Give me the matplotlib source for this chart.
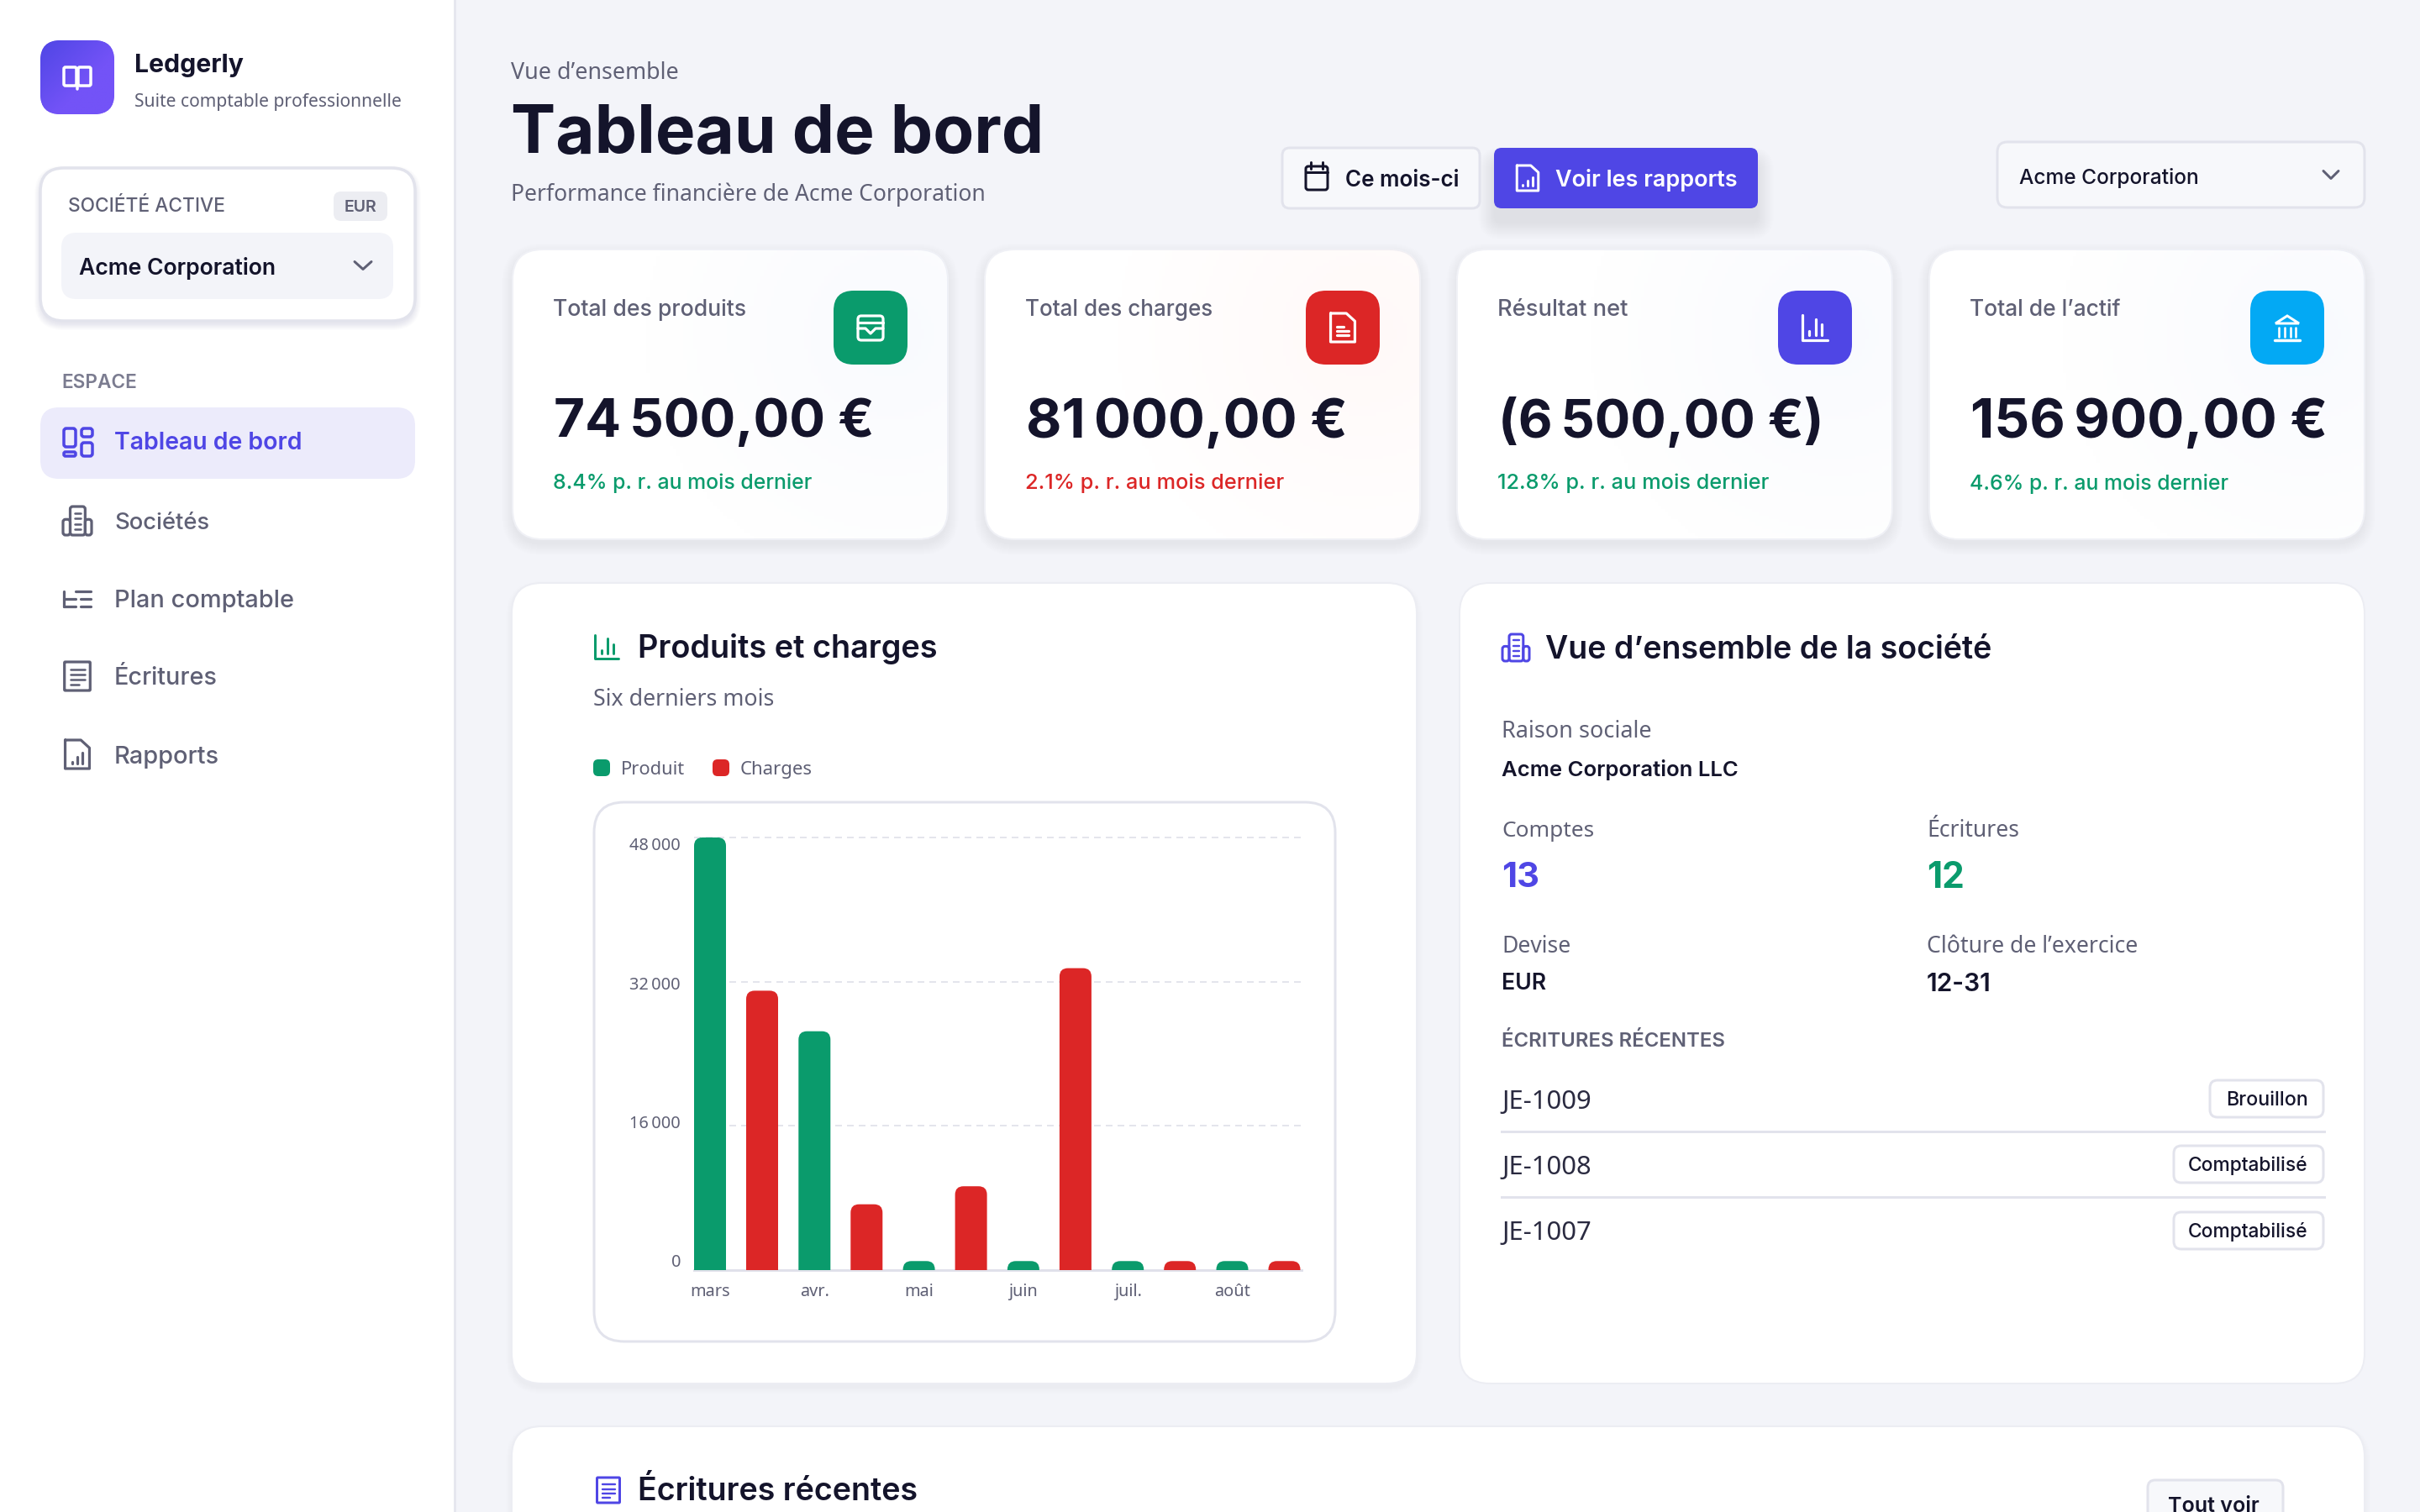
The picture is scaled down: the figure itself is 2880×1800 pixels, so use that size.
import numpy as np
import matplotlib
matplotlib.use('Agg')
import matplotlib.pyplot as plt
from matplotlib.patches import FancyBboxPatch, Polygon
from matplotlib.transforms import ScaledTranslation

# chart data
months = ['mars', 'avr.', 'mai', 'juin', 'juil.', 'août']
produit = [48000, 26500, 1000, 1000, 1000, 1000]
charges = [31000, 7300, 9300, 33500, 1000, 1000]
y_ticks = [0, 16000, 32000, 48000]
y_tick_labels = ['0', '16\u202f000', '32\u202f000', '48\u202f000']

# kpi cards
kpi_titles = ['Total des produits', 'Total des charges', 'Résultat net', 'Total de l’actif']
kpi_values = ['74\u202f500,00\u00a0€', '81\u202f000,00\u00a0€', '(6\u202f500,00\u00a0€)', '156\u202f900,00\u00a0€']
kpi_changes = ['8.4% p. r. au mois dernier', '2.1% p. r. au mois dernier',
               '12.8% p. r. au mois dernier', '4.6% p. r. au mois dernier']

nav_items = ['Sociétés', 'Plan comptable', 'Écritures', 'Rapports']
journal_ids = ['JE-1009', 'JE-1008', 'JE-1007']
journal_status = ['Brouillon', 'Comptabilisé', 'Comptabilisé']

INK = '#14142B'
GREY = '#5F6075'
LINE = '#E2E3EC'
BG = '#F3F4F9'
INDIGO = '#4F46E5'
GREEN = '#0A9B6C'
RED = '#DC2626'
SKY = '#03A9F4'
BODY = ['Noto Sans', 'DejaVu Sans']
HEAD = ['Inter', 'DejaVu Sans']
PX = 0.36  # one output pixel in points

fig = plt.figure(figsize=(14.4, 9), dpi=200, facecolor=BG)
ax0 = fig.add_axes([0, 0, 1, 1])
ax0.set_xlim(0, 2880)
ax0.set_ylim(1800, 0)
ax0.axis('off')


def box(x0, y0, x1, y1, r, fc='white', ec='none', lw=0, z=2, alpha=None):
    p = FancyBboxPatch((x0, y0), x1 - x0, y1 - y0, boxstyle='round,pad=0,rounding_size=%g' % r,
                       fc=fc, ec=ec, lw=lw * PX, zorder=z, alpha=alpha)
    ax0.add_patch(p)
    return p


def shadow(x0, y0, x1, y1, r, dy=6, spread=14, color='#3A3C6E', a=0.003, z=1):
    for i in range(spread):
        box(x0 - i, y0 + dy - i, x1 + i, y1 + dy + i, r + i, fc=color, z=z, alpha=a)


def put(s, x, y, w=None, size=10, color=INK, weight='normal', ha='left', fam=None, z=6):
    # Noto Sans here has one weight only, heavier text goes to Inter
    if fam is None:
        fam = BODY if weight == 'normal' else HEAD
    t = ax0.text(x, y + 3.5, s, fontsize=size, color=color, fontweight=weight, ha=ha, va='center',
                 family=fam, zorder=z)
    if w is not None:
        cur = t.get_window_extent(fig.canvas.get_renderer()).width
        t.set_fontsize(size * w / cur)
    return t


def ln(xs, ys, color, lw=3.5, z=7):
    ax0.plot(xs, ys, color=color, lw=lw * PX, solid_capstyle='round', solid_joinstyle='round', zorder=z)


def outline(x0, y0, x1, y1, r, color, lw=3.5, z=7):
    box(x0, y0, x1, y1, r, fc='none', ec=color, lw=lw, z=z)


def chevron(cx, cy, w, h, color):
    ln([cx - w / 2, cx, cx + w / 2], [cy - h / 2, cy + h / 2, cy - h / 2], color, 3)


def icon_bars(cx, cy, s, color, lw=3):
    ln([cx - s, cx - s, cx + s], [cy - s, cy + s, cy + s], color, lw)
    for dx, top in [(-0.45, 0.25), (0.05, -0.7), (0.55, -0.25)]:
        ln([cx + dx * s, cx + dx * s], [cy + 0.6 * s, cy + top * s], color, lw)


def icon_file(cx, cy, s, color, lw=3, kind='bars'):
    w = s * 0.85
    ln([cx - w, cx - w, cx + w, cx + w, cx + 0.25 * s, cx - w], [cy - s, cy + s, cy + s, cy - 0.45 * s, cy - s, cy - s], color, lw)
    if kind == 'bars':
        for dx, top in [(-0.38, 0.5), (0.0, 0.2), (0.38, -0.1)]:
            ln([cx + dx * s, cx + dx * s], [cy + 0.62 * s, cy + top * s], color, lw)
    else:
        for dy, w2 in [(-0.05, 0.05), (0.25, 0.42), (0.55, 0.42)]:
            ln([cx - 0.42 * s, cx + w2 * s], [cy + dy * s, cy + dy * s], color, lw)


def icon_receipt(cx, cy, s, color, lw=3):
    w = s * 0.9
    outline(cx - w, cy - s, cx + w, cy + s, 1, color, lw)
    for dy, w2 in [(-0.45, 0.5), (-0.1, 0.5), (0.25, 0.5), (0.6, 0.1)]:
        ln([cx - 0.5 * s, cx + w2 * s], [cy + dy * s, cy + dy * s], color, lw * 0.8)


def icon_building(cx, cy, s, color, lw=3):
    outline(cx - 0.5 * s, cy - s, cx + 0.55 * s, cy + s, 3, color, lw)
    outline(cx - s, cy - 0.1 * s, cx - 0.5 * s, cy + s, 3, color, lw)
    outline(cx + 0.55 * s, cy - 0.1 * s, cx + s, cy + s, 3, color, lw)
    for dy in [-0.55, -0.15, 0.25, 0.6]:
        ln([cx - 0.2 * s, cx + 0.25 * s], [cy + dy * s, cy + dy * s], color, lw * 0.8)


# page frame
box(-40, -40, 541, 1840, 0, fc='white', z=1)
ax0.plot([541, 541], [0, 1800], color='#E6E7EF', lw=3 * PX, zorder=2)

# logo, diagonal gradient clipped to a rounded square
logo_patch = box(48, 48, 136, 136, 24, fc='#6A4FF2', z=2)
gx, gy = np.meshgrid(np.linspace(0, 1, 60), np.linspace(0, 1, 60))
logo_img = ax0.imshow((gx + gy) / 2, extent=(48, 136, 136, 48), aspect='auto', zorder=3, vmin=0, vmax=0.6,
                      cmap=matplotlib.colors.LinearSegmentedColormap.from_list('logo', ['#4F46E5', '#7353F7']))
logo_img.set_clip_path(logo_patch)
ax0.set_xlim(0, 2880)
ax0.set_ylim(1800, 0)
box(76, 80, 91, 102, 2, fc='none', ec='white', lw=3.5, z=7)
box(93, 80, 108, 102, 2, fc='none', ec='white', lw=3.5, z=7)
ln([92, 92], [82, 106], 'white', 3.5)
put('Ledgerly', 160, 75, w=130, size=12, weight='bold')
put('Suite comptable professionnelle', 160, 118, w=318, size=8, color=GREY)

# active company
shadow(48, 200, 494, 382, 28, dy=4, spread=8, a=0.01)
box(48, 200, 494, 382, 28, fc='white', ec=LINE, lw=3.5)
put('SOCIÉTÉ ACTIVE', 81, 243, w=187, size=7, color=GREY, weight='medium')
box(397, 228, 461, 263, 9, fc='#ECEDF2', z=3)
put('EUR', 429, 243, w=39, size=6, color=GREY, weight='semibold', ha='center')
box(73, 277, 468, 356, 18, fc=BG, z=3)
put('Acme Corporation', 94, 316, w=235, size=10, weight='semibold')
chevron(432, 316, 20, 9, GREY)

# nav
put('ESPACE', 73, 452, w=90, size=6, color='#7B7C90', weight='semibold')
box(48, 485, 494, 570, 22, fc='#ECEBFB', z=2)
put('Tableau de bord', 136, 524, w=224, size=11, color=INDIGO, weight='semibold')
outline(76, 510, 90, 532, 3, INDIGO, 3.5)
outline(97, 510, 110, 520, 3, INDIGO, 3.5)
outline(76, 538, 90, 543, 2, INDIGO, 3.5)
outline(97, 527, 110, 543, 3, INDIGO, 3.5)
nav_y = [619, 712, 804, 898]
nav_w = [113, 214, 123, 125]
for label, yy, ww in zip(nav_items, nav_y, nav_w):
    put(label, 136, yy, w=ww, size=11, color=GREY, weight='medium')
icon_building(92, 620, 17, GREY, 3.2)
ln([76, 76], [704, 722], GREY, 3.2)
ln([76, 90], [713, 713], GREY, 3.2)
ln([76, 90], [722, 722], GREY, 3.2)
ln([90, 108], [704, 704], GREY, 3.2)
ln([96, 108], [713, 713], GREY, 3.2)
ln([96, 108], [722, 722], GREY, 3.2)
icon_receipt(92, 805, 17, GREY, 3.2)
icon_file(92, 898, 17, GREY, 3.2)

# header
put('Vue d’ensemble', 608, 84, w=200, size=10, color=GREY)
put('Tableau de bord', 608, 158, w=634, size=29, weight='bold')
put('Performance financière de Acme Corporation', 608, 228, w=564, size=10, color=GREY)

box(1526, 176, 1761, 248, 9, fc='#F7F8FB', ec=LINE, lw=3)
ln([1567 - 13, 1567 + 13], [205, 205], INK, 3)
outline(1554, 198, 1580, 226, 3, INK, 3)
ln([1560, 1560], [193, 201], INK, 3)
ln([1574, 1574], [193, 201], INK, 3)
put('Ce mois-ci', 1601, 211, w=136, size=10, weight='semibold')

shadow(1778, 176, 2092, 248, 9, dy=18, spread=20, color=INDIGO, a=0.005)
box(1778, 176, 2092, 248, 9, fc=INDIGO, z=3)
icon_file(1818, 212, 15, 'white', 3)
put('Voir les rapports', 1851, 211, w=217, size=10, color='white', weight='semibold')

box(2377, 169, 2814, 247, 12, fc='#F7F8FB', ec=LINE, lw=3)
put('Acme Corporation', 2403, 208, w=214, size=10, weight='medium')
chevron(2774, 208, 18, 9, GREY)

# kpi cards
card_x = [610, 1172, 1734, 2296]
icon_colors = [GREEN, RED, INDIGO, SKY]
tints = [(0.87, 0.90, 0.98), (1.0, 0.87, 0.85), (0.87, 0.90, 0.98), (0.87, 0.90, 0.98)]
title_w = [230, 223, 155, 180]
value_w = [382, 382, 387, 425]
change_w = [308, 308, 323, 308]
change_c = [GREEN, RED, GREEN, GREEN]
gx, gy = np.meshgrid(np.arange(0, 518, 4), np.arange(0, 345, 4))
for i, cx in enumerate(card_x):
    shadow(cx, 297, cx + 518, 642, 36, dy=6, spread=14)
    card = box(cx, 297, cx + 518, 642, 36, fc='white', ec='#F0F1F6', lw=2)
    fade = np.clip(1 - np.hypot(gx - 450, gy - 100) / 300, 0, 1)
    rgba = np.dstack([np.full(fade.shape, c) for c in tints[i]] + [fade * 0.18])
    glow = ax0.imshow(rgba, extent=(cx, cx + 518, 642, 297), aspect='auto', zorder=3)
    glow.set_clip_path(card)
    put(kpi_titles[i], cx + 48, 366, w=title_w[i], size=10, color=GREY, weight='medium')
    box(cx + 382, 346, cx + 470, 434, 24, fc=icon_colors[i], z=4)
    put(kpi_values[i], cx + 49, 500, w=value_w[i], size=24, weight='bold')
    put(kpi_changes[i], cx + 48, 572, w=change_w[i], size=10, color=change_c[i], weight='medium')
ax0.set_xlim(0, 2880)
ax0.set_ylim(1800, 0)
ic = card_x[0] + 426
outline(ic - 15, 376, ic + 15, 405, 4, 'white', 3.2)
ln([ic - 15, ic + 15], [384, 384], 'white', 3.2)
ln([ic - 15, ic - 6, ic, ic + 6, ic + 15], [391, 391, 397, 391, 391], 'white', 3.2)
icon_file(card_x[1] + 426, 390, 17, 'white', 3.2, kind='text')
icon_bars(card_x[2] + 426, 390, 15, 'white', 3.2)
ic = card_x[3] + 426
ax0.add_patch(Polygon([[ic - 14, 385], [ic, 376], [ic + 14, 385]], closed=True, fc='none', ec='white', lw=3 * PX, zorder=7))
for dx in [-10, -3.5, 3.5, 10]:
    ln([ic + dx, ic + dx], [390, 401], 'white', 2.6)
ln([ic - 15, ic + 15], [405, 405], 'white', 3.4)

# panels
shadow(609, 694, 1686, 1647, 36, dy=5, spread=8, a=0.004)
box(609, 694, 1686, 1647, 36, fc='white', ec='#ECEDF3', lw=2)
shadow(1737, 694, 2814, 1647, 36, dy=14, spread=20, a=0.0012)
box(1737, 694, 2814, 1647, 36, fc='white', ec='#ECEDF3', lw=2)
shadow(609, 1698, 2814, 1900, 36, dy=5, spread=8, a=0.004)
box(609, 1698, 2814, 1900, 36, fc='white', ec='#ECEDF3', lw=2)

# chart panel
icon_bars(722, 770, 14, GREEN, 3)
put('Produits et charges', 759, 769, w=358, size=14, weight='semibold')
put('Six derniers mois', 706, 829, w=215, size=10, color=GREY)
box(706, 904, 726, 924, 6, fc=GREEN, z=4)
put('Produit', 739, 913, w=76, size=8, color=GREY)
box(848, 904, 868, 924, 6, fc=RED, z=4)
put('Charges', 881, 913, w=86, size=8, color=GREY)
box(707, 955, 1589, 1597, 36, fc='white', ec=LINE, lw=3, z=3)

px0, px1, py0, py1 = 826, 1549, 997, 1512
ax = fig.add_axes([px0 / 2880, 1 - py1 / 1800, (px1 - px0) / 2880, (py1 - py0) / 1800])
ax.patch.set_alpha(0)
step = 124.3
ax.set_xlim(-19 / step, (px1 - px0 - 19) / step)
ax.set_ylim(0, 48000)
pos = np.arange(len(months))
bars_p = ax.bar(pos, produit, width=38 / step, color=GREEN, zorder=3)
bars_c = ax.bar(pos + 62 / step, charges, width=38 / step, color=RED, zorder=3)
aspect = (48000 / (py1 - py0)) * step
# swap the square bars for ones with rounded tops, same place and height
for bar in list(bars_p) + list(bars_c):
    low = -3000
    ax.add_patch(FancyBboxPatch((bar.get_x(), low), bar.get_width(), bar.get_height() - low,
                                boxstyle='round,pad=0,rounding_size=%g' % (10 / step),
                                mutation_aspect=aspect, fc=bar.get_facecolor(), ec='none', zorder=3))
    bar.set_visible(False)
ax.set_yticks(y_ticks)
ax.set_yticklabels(y_tick_labels, family=BODY, fontsize=7.2, color=GREY)
ax.set_xticks(pos)
ax.set_xticklabels(months, family=BODY, fontsize=7.2, color=GREY)
ax.tick_params(axis='both', length=0)
ax.tick_params(axis='y', pad=16 * PX)
ax.tick_params(axis='x', pad=16 * PX)
ax.grid(axis='y', color='#E4E5EC', lw=2 * PX, ls=(0, (4, 3)), zorder=0, clip_on=False)
for name in ['top', 'left', 'right']:
    ax.spines[name].set_visible(False)
ax.spines['bottom'].set_color('#E0E1EA')
ax.spines['bottom'].set_linewidth(3 * PX)
# the tick labels sit a little off their grid lines in the original
label_shift = [11, 5, -2, -8]
for lab, dy in zip(ax.get_yticklabels(), label_shift):
    lab.set_transform(lab.get_transform() + ScaledTranslation(0, dy / 200, fig.dpi_scale_trans))

# company panel
icon_building(1804, 771, 16, INDIGO, 3)
put('Vue d’ensemble de la société', 1839, 770, w=532, size=14, weight='semibold')
put('Raison sociale', 1787, 867, w=178, size=10, color=GREY)
put('Acme Corporation LLC', 1787, 913, w=282, size=10, weight='semibold')
put('Comptes', 1787, 986, w=110, size=10, color=GREY)
put('Écritures', 2293, 986, w=110, size=10, color=GREY)
put('13', 1787, 1042, w=45, size=15, color=INDIGO, weight='bold')
put('12', 2293, 1042, w=45, size=15, color=GREEN, weight='bold')
put('Devise', 1787, 1123, w=82, size=10, color=GREY)
put('Clôture de l’exercice', 2293, 1123, w=252, size=10, color=GREY)
put('EUR', 1787, 1168, w=53, size=10, weight='semibold')
put('12-31', 2293, 1168, w=77, size=10, weight='semibold')
put('ÉCRITURES RÉCENTES', 1787, 1236, w=266, size=8, color=GREY, weight='semibold')
row_y = [1308, 1386, 1465]
badge_x = [2630, 2587, 2587]
badge_w = [98, 143, 143]
for jid, st, yy, bx, bw in zip(journal_ids, journal_status, row_y, badge_x, badge_w):
    put(jid, 1787, yy, w=107, size=10, color='#2A2A40')
    box(bx, yy - 22, 2765, yy + 22, 9, fc='white', ec=LINE, lw=3, z=3)
    put(st, 2747 - bw, yy - 2, w=bw, size=8.5, weight='medium')
for yy in [1347, 1425]:
    ax0.plot([1787, 2766], [yy, yy], color=LINE, lw=3 * PX, zorder=3)

# bottom panel, runs off the page
icon_receipt(724, 1774, 15, INDIGO, 3)
put('Écritures récentes', 759, 1773, w=334, size=14, weight='semibold')
box(2556, 1762, 2717, 1860, 9, fc='#F7F8FB', ec=LINE, lw=3, z=3)
put('Tout voir', 2580, 1790, w=109, size=10, weight='semibold')

fig.savefig('out.png', dpi=200, facecolor=BG)
